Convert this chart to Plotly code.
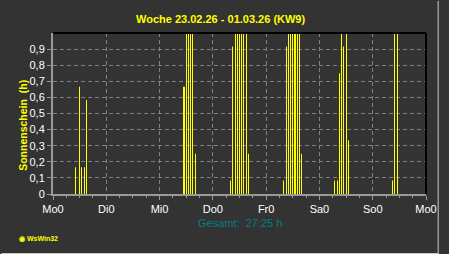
import plotly.graph_objects as go

# Data: hour index since Monday 00:00, sunshine minutes in that hour
hour_index = [10, 12, 13, 14, 15,
              59, 60, 61, 62, 63, 64,
              80, 81, 82, 83, 84, 85, 86, 87, 88,
              104, 105, 106, 107, 108, 109, 110, 111, 112,
              127, 128, 129, 130, 131, 132, 133,
              153, 154, 155]
sunshine_min = [10, 40, 10, 10, 35,
                40, 60, 60, 60, 60, 15,
                5, 55, 60, 60, 60, 60, 60, 60, 15,
                5, 55, 60, 60, 60, 60, 60, 60, 15,
                5, 5, 45, 60, 55, 60, 20,
                5, 60, 60]
sunshine_h = [m / 60 for m in sunshine_min]

day_ticks = [0, 24, 48, 72, 96, 120, 144, 168]
day_labels = ["Mo0", "Di0", "Mi0", "Do0", "Fr0", "Sa0", "So0", "Mo0"]
y_ticks = [0, 0.1, 0.2, 0.3, 0.4, 0.5, 0.6, 0.7, 0.8, 0.9]
y_labels = ["0", "0,1", "0,2", "0,3", "0,4", "0,5", "0,6", "0,7", "0,8", "0,9"]

title_text = "Woche 23.02.26 - 01.03.26 (KW9)"
total_text = "Gesamt:  27:25 h"

BG = "#333333"
GRID = "#808080"
FONT = "Liberation Sans, Arial, sans-serif"

fig = go.Figure()
# very narrow bars: plotly expands them to exactly one whole pixel
fig.add_trace(go.Bar(x=hour_index, y=sunshine_h, width=0.02,
                     marker=dict(color="#ffff00", line=dict(width=0)),
                     hoverinfo="skip"))

fig.update_layout(
    width=449, height=254,
    margin=dict(l=53, r=13, t=33, b=60),
    paper_bgcolor=BG, plot_bgcolor=BG,
    showlegend=False, bargap=0.2,
    font=dict(family=FONT, size=11, color="#ffffff"),
)
fig.update_xaxes(range=[0, 168], tickvals=day_ticks, ticktext=day_labels,
                 showgrid=True, gridcolor=GRID, griddash="4px,3px", gridwidth=1,
                 showline=True, linecolor="#999999", linewidth=2,
                 ticks="outside", ticklen=4, tickcolor="#999999",
                 minor=dict(dtick=6, tick0=0, ticks="outside", ticklen=2,
                            tickcolor="#999999", showgrid=False),
                 zeroline=False, tickfont=dict(size=11, color="#ffffff"))
fig.update_yaxes(range=[0, 1], tickvals=y_ticks, ticktext=y_labels,
                 showgrid=True, gridcolor=GRID, griddash="4px,3px", gridwidth=1,
                 showline=True, linecolor="#999999", linewidth=2,
                 ticks="outside", ticklen=4, tickcolor="#999999",
                 zeroline=False, tickfont=dict(size=11, color="#ffffff"))

# plot frame top/right black
fig.add_shape(type="line", xref="paper", yref="paper", x0=0, x1=1, y0=1, y1=1,
              line=dict(color="#000000", width=2))
fig.add_shape(type="line", xref="paper", yref="paper", x0=1, x1=1, y0=0, y1=1,
              line=dict(color="#000000", width=2))
# outer window border
fig.add_shape(type="line", xref="paper", yref="paper", x0=-53/383, x1=396/383,
              y0=-59.5/161, y1=-59.5/161, line=dict(color="#c8c8c8", width=1))
fig.add_shape(type="line", xref="paper", yref="paper", x0=395.5/383, x1=395.5/383,
              y0=-60/161, y1=193/161, line=dict(color="#c8c8c8", width=1))

fig.add_annotation(text="<b>" + title_text + "</b>", xref="paper", yref="paper",
                   x=(225.3 - 53) / 383, y=(194 - 19) / 161, showarrow=False,
                   xanchor="center", yanchor="middle",
                   font=dict(family=FONT, size=11, color="#ffff00"))
fig.add_annotation(text="<b>Sonnenschein  (h)</b>", xref="paper", yref="paper",
                   x=(22 - 53) / 383, y=(194 - 125) / 161, showarrow=False,
                   textangle=-90, xanchor="center", yanchor="middle",
                   font=dict(family="Liberation Sans Narrow, Liberation Sans, sans-serif",
                             size=10.5, color="#ffff00"))
fig.add_annotation(text=total_text, xref="paper", yref="paper",
                   x=(245 - 53) / 383, y=(194 - 223) / 161, showarrow=False,
                   xanchor="center", yanchor="middle",
                   font=dict(family=FONT, size=11, color="#008080"))
fig.add_annotation(text="<b>◉ WsWin32</b>", xref="paper", yref="paper",
                   x=(16 - 53) / 383, y=(194 - 239) / 161, showarrow=False,
                   xanchor="left", yanchor="middle",
                   font=dict(family=FONT, size=7, color="#ffff00"))

fig.write_html("out.html", config=dict(displayModeBar=False))
